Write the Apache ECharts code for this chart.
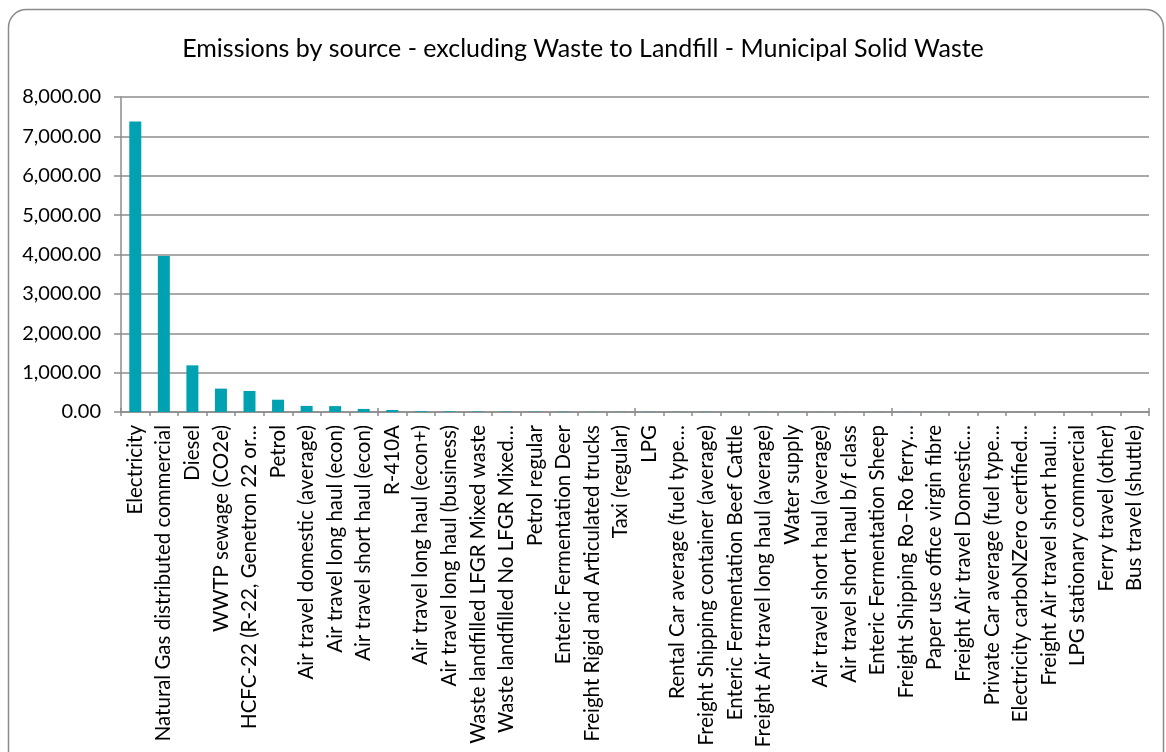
<!DOCTYPE html>
<html>
<head>
<meta charset="utf-8">
<script src="https://cdn.jsdelivr.net/npm/echarts@6/dist/echarts.min.js"></script>
<style>
html,body{margin:0;padding:0;background:#fff;}
#c{width:1166px;height:752px;}
</style>
</head>
<body>
<div id="c"></div>
<script>
const titleText = "Emissions by source - excluding Waste to Landfill - Municipal Solid Waste";
const categories = [
  "Electricity",
  "Natural Gas distributed commercial",
  "Diesel",
  "WWTP sewage (CO2e)",
  "HCFC-22 (R-22, Genetron 22 or…",
  "Petrol",
  "Air travel domestic (average)",
  "Air travel long haul (econ)",
  "Air travel short haul (econ)",
  "R-410A",
  "Air travel long haul (econ+)",
  "Air travel long haul (business)",
  "Waste landfilled LFGR Mixed waste",
  "Waste landfilled No LFGR Mixed…",
  "Petrol regular",
  "Enteric Fermentation Deer",
  "Freight Rigid and Articulated trucks",
  "Taxi (regular)",
  "LPG",
  "Rental Car average (fuel type…",
  "Freight Shipping container (average)",
  "Enteric Fermentation Beef Cattle",
  "Freight Air travel long haul (average)",
  "Water supply",
  "Air travel short haul (average)",
  "Air travel short haul b/f class",
  "Enteric Fermentation Sheep",
  "Freight Shipping Ro–Ro ferry…",
  "Paper use office virgin fibre",
  "Freight Air travel Domestic…",
  "Private Car average (fuel type…",
  "Electricity carboNZero certified…",
  "Freight Air travel short haul…",
  "LPG stationary commercial",
  "Ferry travel (other)",
  "Bus travel (shuttle)"
];
const emissions = [
  7380, 3960, 1185, 594, 535, 312, 155, 150, 78, 52,
  20, 15, 12, 10, 8, 7, 6, 5, 5, 4,
  4, 3, 3, 3, 2, 2, 2, 2, 1.5, 1.2,
  1, 1, 0.8, 0.6, 0.4, 0.2
];
const yMin = 0, yMax = 8000, yStep = 1000;

function fmt(v){
  const s = v.toFixed(2);
  const [i, d] = s.split('.');
  return i.replace(/\B(?=(\d{3})+(?!\d))/g, ',') + '.' + d;
}

const FONT = "Lato, 'Open Sans', sans-serif";
const chart = echarts.init(document.getElementById('c'), null, {renderer:'canvas'});
chart.setOption({
  animation:false,
  backgroundColor:'#ffffff',
  textStyle:{fontFamily:FONT},
  title:{
    text:titleText, left:'center', top:31,
    textStyle:{fontFamily:FONT, fontSize:25, fontWeight:'normal', color:'#000'}
  },
  graphic:[{
    type:'rect', silent:true,
    shape:{x:8.5, y:9.5, width:1155, height:770, r:18},
    style:{fill:'none', stroke:'#8a8a8a', lineWidth:1.5}
  }],
  grid:{left:121, right:17, top:97, bottom:340, containLabel:false},
  xAxis:[{
    type:'category', data:categories, position:'bottom',
    axisLine:{lineStyle:{color:'#8c8c8c', width:1.5}},
    axisTick:{show:true, length:4, lineStyle:{color:'#8c8c8c', width:1.5}},
    axisLabel:{interval:0, rotate:90, margin:13, fontSize:20.5, color:'#000', fontFamily:FONT}
  },{
    type:'category', data:categories, position:'bottom',
    axisLine:{show:false},
    axisTick:{show:true, inside:true, length:4, lineStyle:{color:'#8c8c8c', width:1.5}},
    axisLabel:{show:false}
  }],
  yAxis:{
    type:'value', min:yMin, max:yMax, interval:yStep,
    axisLine:{show:true, lineStyle:{color:'#8c8c8c', width:1.5}},
    axisTick:{show:true, length:7, lineStyle:{color:'#8c8c8c', width:1.5}},
    splitLine:{show:true, lineStyle:{color:'#8c8c8c', width:1.5}},
    axisLabel:{margin:20, fontSize:20, color:'#000', fontFamily:FONT, formatter:fmt}
  },
  series:[{
    type:'bar', data:emissions, xAxisIndex:0,
    barWidth:12,
    itemStyle:{color:'#00a2b1'}
  }]
});
</script>
</body>
</html>
